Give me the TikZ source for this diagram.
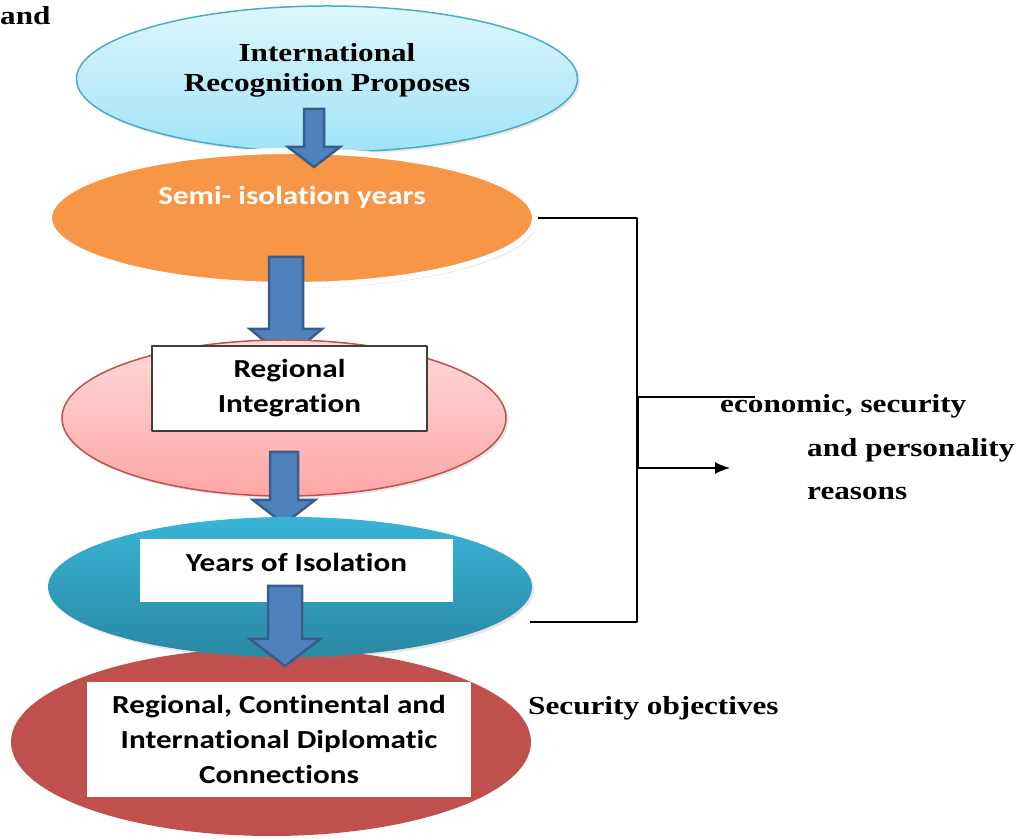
\documentclass[tikz,border=0pt]{standalone}
\usepackage{fontspec}
\setmainfont{Liberation Serif}[FakeStretch=1.2]
\newfontfamily\boxfont{Carlito}[FakeStretch=1.2,Ligatures=NoCommon]
\usetikzlibrary{shapes.geometric,shadows,arrows.meta}

\definecolor{skytop}{RGB}{222,246,253}
\definecolor{skybot}{RGB}{160,227,247}
\definecolor{skyline}{RGB}{75,172,198}
\definecolor{semiorange}{RGB}{247,150,70}
\definecolor{pinktop}{RGB}{255,218,218}
\definecolor{pinkbot}{RGB}{255,166,166}
\definecolor{pinkline}{RGB}{192,80,77}
\definecolor{tealtop}{RGB}{57,180,215}
\definecolor{tealbot}{RGB}{42,136,163}
\definecolor{brick}{RGB}{192,80,77}
\definecolor{arrowblue}{RGB}{79,129,189}
\definecolor{arrowedge}{RGB}{56,93,138}

\tikzset{
  stage/.style={ellipse,inner sep=0pt},
  serifbold/.style={font=\fontsize{26bp}{30bp}\selectfont\bfseries},
  sansbold/.style={font=\boxfont\fontsize{26bp}{35bp}\selectfont\bfseries},
  blockarrow/.style={fill=arrowblue,draw=arrowedge,line width=2.5bp,line join=miter},
  bracket/.style={line width=1.8bp},
}

\begin{document}
\begin{tikzpicture}[>=latex,line join=bevel,]
\useasboundingbox (0bp,0bp) rectangle (1029bp,839bp);
%%
\node (and) at (0bp,823bp) [anchor=west,inner sep=0pt,serifbold] {and};
%% ellipses, top to bottom
\node (recog) at (327bp,760bp) [stage,minimum width=501bp,minimum height=146bp,top color=skytop,bottom color=skybot,draw=skyline,line width=1.5bp,drop shadow={opacity=0.2}] {};
  \node (recogtxt) at (327bp,769bp) [serifbold,align=center] {International\\Recognition Proposes};
\node (semi) at (292bp,621bp) [stage,minimum width=486bp,minimum height=134bp,fill=semiorange,draw=white,line width=6bp,drop shadow={opacity=0.35,shadow xshift=2bp,shadow yshift=-3bp}] {};
  \node (semitxt) at (292bp,642bp) [sansbold,text=white] {Semi- isolation years};
\draw [blockarrow] (304bp,730bp) -- (324bp,730bp) -- (324bp,692bp) -- (340bp,692bp)
  -- (314bp,672bp) -- (288bp,692bp) -- (304bp,692bp) -- cycle;
\draw [blockarrow] (269bp,582bp) -- (303bp,582bp) -- (303bp,510bp) -- (322bp,510bp)
  -- (286bp,480bp) -- (250bp,510bp) -- (269bp,510bp) -- cycle;
\node (integ) at (284bp,421bp) [stage,minimum width=444bp,minimum height=156bp,top color=pinktop,bottom color=pinkbot,draw=pinkline,line width=1.5bp,drop shadow={opacity=0.2}] {};
  \node (integbox) at (289.5bp,450.5bp) [draw=black!75,fill=white,line width=1.2bp,minimum width=275bp,minimum height=85bp,sansbold,align=center] {Regional\\Integration};
\draw [blockarrow] (270bp,387bp) -- (298bp,387bp) -- (298bp,339bp) -- (315bp,339bp)
  -- (284bp,315bp) -- (253bp,339bp) -- (270bp,339bp) -- cycle;
\node (dipl) at (271bp,97bp) [stage,minimum width=520bp,minimum height=188bp,fill=brick] {};
\node (isol) at (290bp,252bp) [stage,minimum width=484bp,minimum height=140bp,top color=tealtop,bottom color=tealbot,drop shadow={opacity=0.2}] {};
  \node (isolbox) at (296.5bp,268.5bp) [fill=white,minimum width=313bp,minimum height=63bp,text depth=17bp,sansbold] {Years of Isolation};
\draw [blockarrow] (268bp,253bp) -- (302bp,253bp) -- (302bp,200bp) -- (320bp,200bp)
  -- (285bp,173bp) -- (250bp,200bp) -- (268bp,200bp) -- cycle;
  \node (diplbox) at (279bp,99.5bp) [fill=white,minimum width=384bp,minimum height=115bp,sansbold,align=center] {Regional, Continental and\\International Diplomatic\\Connections};
%% side notes
\coordinate (brk) at (637bp,217bp);
\coordinate (brkend) at (530bp,217bp);
\draw [bracket] (semi.east) -| (brk) -- (brkend);
\coordinate (rtop) at (755bp,442bp);
\coordinate (rbend) at (638bp,442bp);
\coordinate (rtip) at (730bp,371bp);
\draw [line width=1.4bp,-{Latex[length=15bp,width=12bp]}] (rtop) -- (rbend) |- (rtip);
\node (econ) at (720bp,426bp) [anchor=base west,inner sep=0pt,serifbold] {economic, security};
\node (pers) at (807bp,382bp) [anchor=base west,inner sep=0pt,serifbold] {and personality};
\node (reas) at (807bp,339bp) [anchor=base west,inner sep=0pt,serifbold] {reasons};
\node (secur) at (528bp,131bp) [anchor=west,inner sep=0pt,serifbold] {Security objectives};
%
\end{tikzpicture}
\end{document}
